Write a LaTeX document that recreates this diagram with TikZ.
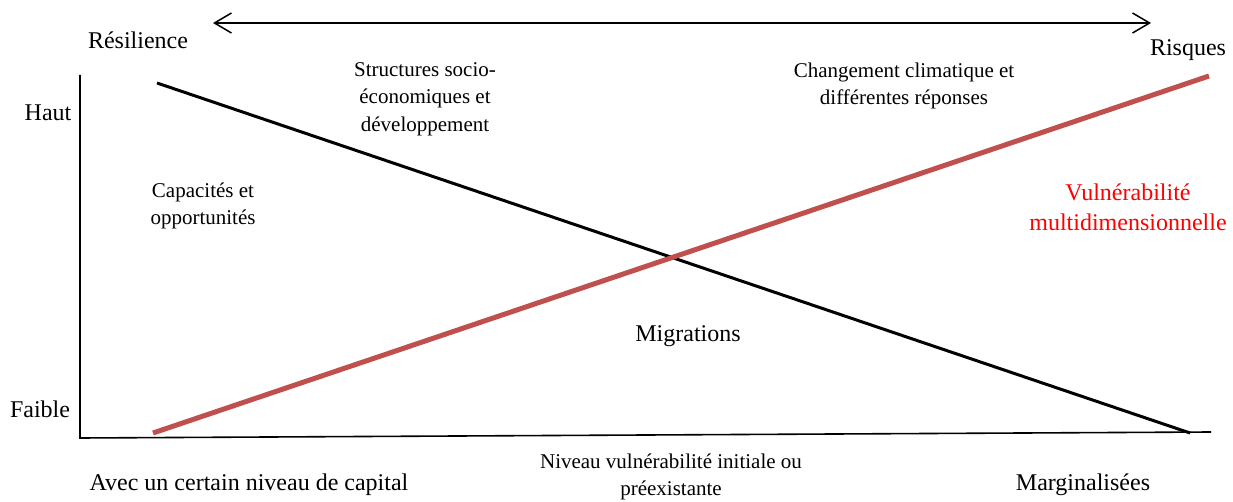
\documentclass[tikz,border=0pt]{standalone}
\usepackage{fontspec}
\setmainfont{Liberation Serif}
\usepackage{xcolor}
\usetikzlibrary{arrows.meta}
\definecolor{rouge}{RGB}{192,80,77}
\tikzset{
	grand/.style={font=\fontsize{24}{30}\selectfont, inner sep=0pt, align=center},
	petit/.style={font=\fontsize{21}{27.5}\selectfont, inner sep=0pt, align=center},
}
\begin{document}
\begin{tikzpicture}[x=1pt,y=-1pt]
	\useasboundingbox (0,0) rectangle (1233,502);
	% axes
	\coordinate (O) at (80,438);
	\coordinate (H) at (80,75);
	\coordinate (D) at (1211,432);
	\draw [line width=1.6pt] (H) -- (O) -- (D);
	% double fleche
	\coordinate (FG) at (213,23);
	\coordinate (FD) at (1151,23);
	\draw [line width=1.5pt, {Straight Barb[length=17pt,width=20pt,line width=1.5pt]}-{Straight Barb[length=17pt,width=20pt,line width=1.5pt]}] (FG) -- (FD);
	% droites
	\coordinate (N1) at (157,83);
	\coordinate (N2) at (1190,433);
	\coordinate (R1) at (153,433);
	\coordinate (R2) at (1209,76);
	\draw [line width=3pt] (N1) -- (N2);
	\draw [line width=5pt, rouge] (R1) -- (R2);
	% textes
	\node [grand] (resil) at (138,40) {Résilience};
	\node [grand] (risq) at (1188,50) {Risques};
	\node [grand] (haut) at (48,113) {Haut};
	\node [grand] (faible) at (40,409) {Faible};
	\node [petit] (struct) at (425,99) {Structures socio-\\économiques et\\développement};
	\node [petit] (clim) at (904,86) {Changement climatique et\\différentes réponses};
	\node [petit] (capa) at (203,206) {Capacités et\\opportunités};
	\node [grand, text=red] (vuln) at (1128,207) {Vulnérabilité\\multidimensionnelle};
	\node [grand] (migr) at (688,336) {Migrations};
	\node [grand] (capital) at (249,485) {Avec un certain niveau de capital};
	\node [grand] (marg) at (1083,485) {Marginalisées};
	\node [petit] (niveau) at (671,477) {Niveau vulnérabilité initiale ou\\préexistante};
\end{tikzpicture}
\end{document}
